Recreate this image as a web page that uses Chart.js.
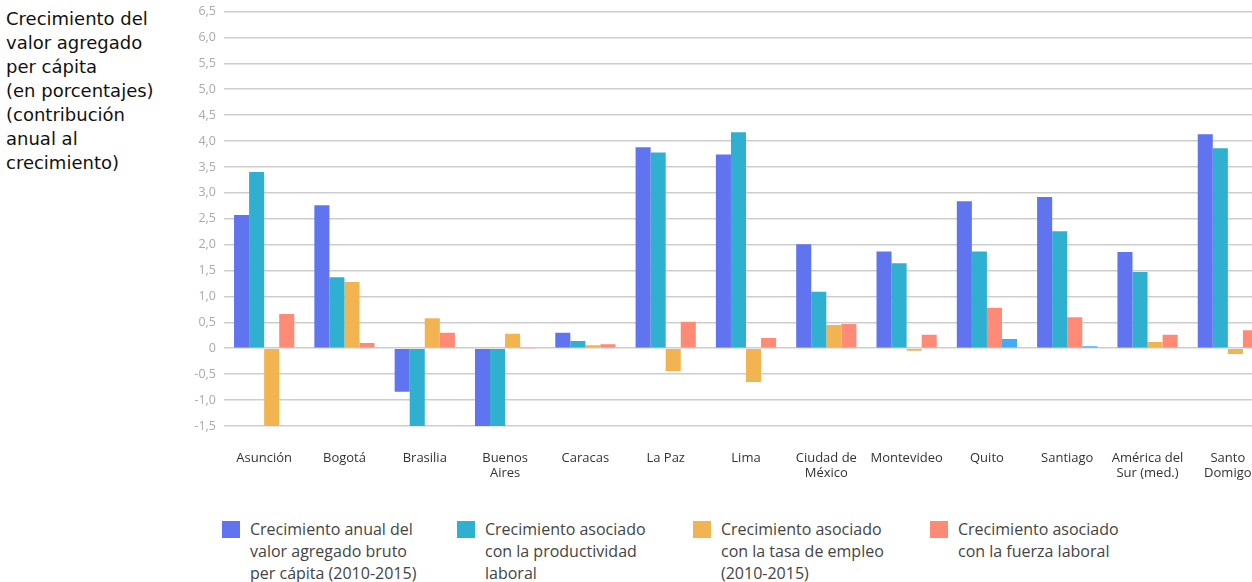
<!DOCTYPE html>
<html>
<head>
<meta charset="utf-8">
<script src="https://cdn.jsdelivr.net/npm/chart.js@4"></script>
<style>
    body { margin: 0; background: #fff; overflow: hidden; width: 1252px; height: 582px; position: relative; font-family: "Open Sans", sans-serif; }
    #title { position: absolute; left: 6px; top: 7px; font-family: "DejaVu Sans", sans-serif; font-size: 18px; line-height: 24px; color: #111; }
    #wrap { position: absolute; left: 0; top: -4px; width: 1270px; height: 494px; }
    .leg { position: absolute; top: 518px; font-size: 16px; line-height: 22px; color: #444; }
    .leg span.box { position: absolute; left: 0; top: 3px; width: 18px; height: 17px; }
    .leg div { margin-left: 28px; }
</style>
</head>
<body>
<div id="title">Crecimiento del<br>valor agregado<br>per cápita<br>(en porcentajes)<br>(contribución<br>anual al<br>crecimiento)</div>
<div id="wrap"><canvas id="grafico"></canvas></div>
<div id="leyenda"></div>
<script>
// ciudades (eje x)
var ciudades = ['Asunción', 'Bogotá', 'Brasilia', ['Buenos', 'Aires'], 'Caracas', 'La Paz', 'Lima',
    ['Ciudad de', 'México'], 'Montevideo', 'Quito', 'Santiago', ['América del', 'Sur (med.)'], ['Santo', 'Domigo']];

// valores en porcentajes (los que salen por abajo estan cortados en -1,5)
var vab_pc       = [2.57, 2.76, -0.84, -1.6, 0.30, 3.88, 3.74, 2.01, 1.87, 2.84, 2.92, 1.86, 4.13];
var productividad = [3.40, 1.37, -1.6, -1.6, 0.14, 3.78, 4.17, 1.09, 1.64, 1.87, 2.26, 1.47, 3.86];
var empleo       = [-1.6, 1.28, 0.58, 0.28, 0.06, -0.44, -0.65, 0.45, -0.05, null, null, 0.12, -0.11];
var fuerza       = [0.66, 0.10, 0.30, -0.01, 0.08, 0.51, 0.20, 0.47, 0.26, 0.78, 0.60, 0.26, 0.35];
var otro         = [null, null, null, null, null, null, null, null, null, 0.18, 0.04, null, null];

var etiquetas = [
    ['Crecimiento anual del', 'valor agregado bruto', 'per cápita (2010-2015)'],
    ['Crecimiento asociado', 'con la productividad', 'laboral'],
    ['Crecimiento asociado', 'con la tasa de empleo', '(2010-2015)'],
    ['Crecimiento asociado', 'con la fuerza laboral'],
    ['']
];
var colores = ['#6074f0', '#2fb0d0', '#f2b450', '#ff8a76', '#43aaf5'];
var series = [vab_pc, productividad, empleo, fuerza, otro];

var datasets = [];
series.forEach(function (d, i) {
    datasets.push({
        label: etiquetas[i].join(' '),
        data: d,
        backgroundColor: colores[i],
        borderWidth: 0,
        categoryPercentage: 0.75,
        barPercentage: 1.0
    });
});

var grafico = new Chart(document.getElementById('grafico').getContext('2d'), {
    type: 'bar',
    data: { labels: ciudades, datasets: datasets },
    options: {
        responsive: true,
        maintainAspectRatio: false,
        animation: false,
        skipNull: true,
        layout: { padding: { left: 180, top: 7, right: 2, bottom: 0 } },
        plugins: {
            legend: { display: false },
            tooltip: { enabled: false }
        },
        scales: {
            x: {
                grid: { display: false },
                border: { display: false },
                ticks: {
                    color: '#333',
                    font: { family: 'Open Sans', size: 13 },
                    padding: 16,
                    maxRotation: 0,
                    autoSkip: false
                },
                afterFit: function (axis) { axis.height = 64; }
            },
            y: {
                min: -1.5,
                max: 6.5,
                grid: { color: '#cdcdcd', lineWidth: 1.6, drawTicks: false },
                border: { display: false },
                ticks: {
                    stepSize: 0.5,
                    color: '#aaa',
                    padding: 8,
                    font: { family: 'Open Sans', size: 12.5 },
                    callback: function (v) {
                        if (v === 0) return '0';
                        return v.toFixed(1).replace('.', ',');
                    }
                },
                afterFit: function (axis) { axis.width = 44; }
            }
        }
    }
});

// leyenda en html (solo las cuatro primeras series)
var posiciones = [222, 457, 693, 930];
var leyenda = document.getElementById('leyenda');
posiciones.forEach(function (x, i) {
    var item = document.createElement('div');
    item.className = 'leg';
    item.style.left = x + 'px';
    item.innerHTML = '<span class="box" style="background:' + colores[i] + '"></span><div>' + etiquetas[i].join('<br>') + '</div>';
    leyenda.appendChild(item);
});
</script>
</body>
</html>
